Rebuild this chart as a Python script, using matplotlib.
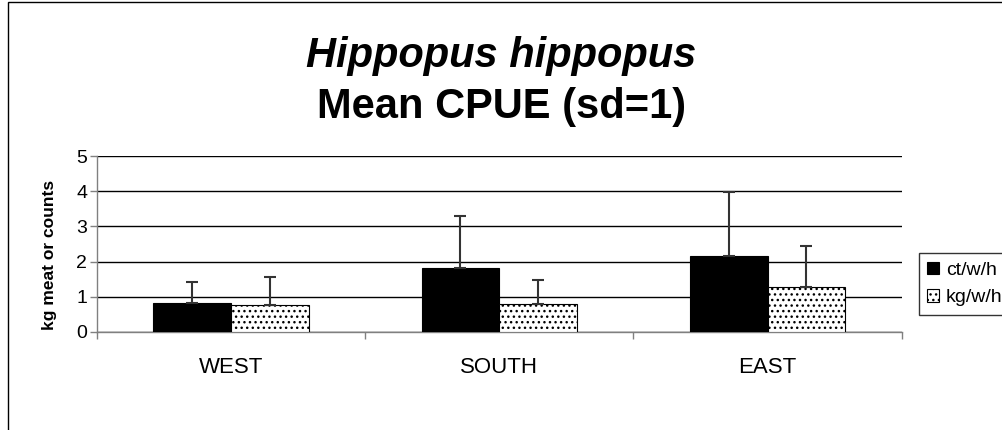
import numpy as np
import matplotlib
matplotlib.use("Agg")
import matplotlib.pyplot as plt
from matplotlib.patches import Rectangle

plt.rcParams['font.family'] = ['Liberation Sans', 'DejaVu Sans']
plt.rcParams['hatch.linewidth'] = 1.0

regions = ['WEST', 'SOUTH', 'EAST']
ct_mean = [0.82, 1.82, 2.17]
ct_sd = [0.60, 1.48, 1.80]
kg_mean = [0.77, 0.80, 1.27]
kg_sd = [0.78, 0.67, 1.18]

fig = plt.figure(figsize=(10.03, 4.3), dpi=100)
ax = fig.add_axes([0.0967, 0.228, 0.8023, 0.409])

x = np.arange(len(regions))
w = 0.29
ax.bar(x - w/2, ct_mean, w, color='black', edgecolor='black', linewidth=0.8,
       yerr=[np.zeros(3), ct_sd], error_kw=dict(ecolor='#333333', elinewidth=1.5, capsize=4, capthick=1.5),
       label='ct/w/h', zorder=3)
ax.bar(x + w/2, kg_mean, w, color='white', edgecolor='black', linewidth=0.8, hatch='...',
       yerr=[np.zeros(3), kg_sd], error_kw=dict(ecolor='#333333', elinewidth=1.5, capsize=4, capthick=1.5),
       label='kg/w/h', zorder=3)

ax.set_xlim(-0.5, 2.5)
ax.set_ylim(0, 5)
ax.set_yticks(range(6))
ax.yaxis.grid(True, color='black', linewidth=1)
ax.set_axisbelow(True)
ax.set_xticks([-0.5, 0.5, 1.5, 2.5])
ax.set_xticklabels([])
ax.set_xticks(x, minor=True)
ax.set_xticklabels(regions, minor=True, fontsize=16)
ax.tick_params(axis='x', which='minor', length=0, pad=18)
ax.tick_params(axis='x', which='major', length=5, color='#808080', width=1)
ax.tick_params(axis='y', length=5, color='#808080', width=1, labelsize=14, pad=2)
for s in ['top', 'right']:
    ax.spines[s].set_visible(False)
for s in ['left', 'bottom']:
    ax.spines[s].set_color('#808080')
    ax.spines[s].set_linewidth(1)
ax.set_ylabel('kg meat or counts', fontsize=12.5, fontweight='bold')
ax.yaxis.set_label_coords(-0.05, 0.44)

fig.text(0.5, 0.844, 'Hippopus hippopus', ha='center', va='baseline', fontsize=30,
         fontweight='bold', fontstyle='italic')
fig.text(0.5, 0.726, 'Mean CPUE (sd=1)', ha='center', va='baseline', fontsize=30,
         fontweight='bold')

leg = fig.legend(loc='upper left', bbox_to_anchor=(0.916, 0.412), fontsize=14,
                 frameon=True, fancybox=False, edgecolor='black', handlelength=0.6,
                 handleheight=0.6, handletextpad=0.35, borderpad=0.45, labelspacing=0.55,
                 borderaxespad=0)
leg.get_frame().set_linewidth(1)

fig.add_artist(Rectangle((0.008, -0.01), 1.1, 1.005, transform=fig.transFigure,
                         fill=False, edgecolor='black', linewidth=1))

fig.savefig('out.png', dpi=100)
